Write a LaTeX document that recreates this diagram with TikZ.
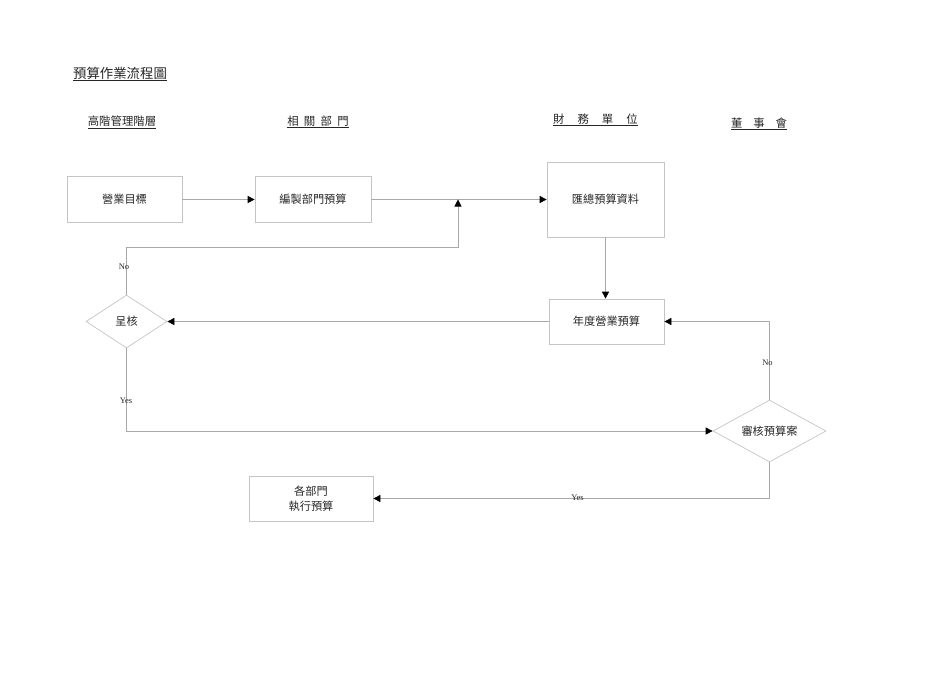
\documentclass[tikz,border=0pt]{standalone}
\usepackage{fontspec}
\setmainfont{Liberation Serif}
\newfontfamily\cjk{Noto Sans CJK TC}
\usetikzlibrary{arrows.meta,shapes.geometric}
\definecolor{boxgray}{HTML}{C4C4C4}
\definecolor{linegray}{HTML}{A8A8A8}
\definecolor{textgray}{HTML}{262626}
\newcommand\hgap[1]{\hspace*{#1pt}}
\begin{document}
\begin{tikzpicture}[x=1pt,y=-1pt,
  box/.style={draw=boxgray,line width=0.7pt,inner sep=0pt,align=center,
    font=\cjk\fontsize{11.2}{15}\selectfont,text=textgray},
  dia/.style={diamond,aspect=2,draw=boxgray,line width=0.7pt,inner sep=0pt,
    font=\cjk\fontsize{11.2}{15}\selectfont,text=textgray},
  head/.style={inner sep=0pt,font=\cjk\fontsize{11.4}{13}\selectfont,text=textgray},
  lbl/.style={inner sep=0pt,font=\fontsize{8.5}{9}\selectfont,text=textgray},
  conn/.style={draw=linegray,line width=0.7pt},
  arr/.style={conn,-{Triangle[length=7pt,width=7pt,color=black]}}]
\useasboundingbox (0,0) rectangle (950,672);

% title and headers
\node[head,font=\cjk\fontsize{13.4}{15}\selectfont] (title) at (120,74) {\underline{預算作業流程圖}};
\node[head] (h1) at (122,122) {\underline{高階管理階層}};
\node[head] (h2) at (318,122) {\underline{相\hgap{5.3}關\hgap{5.3}部\hgap{5.3}門}};
\node[head] (h3) at (595.5,120) {\underline{財\hgap{13}務\hgap{13}單\hgap{13}位}};
\node[head] (h4) at (759,124) {\underline{董\hgap{10.8}事\hgap{10.8}會}};

% nodes
\node[box,minimum width=115pt,minimum height=46pt] (b1) at (124.5,199.5) {營業目標};
\node[box,minimum width=116pt,minimum height=46pt] (b2) at (313,199.5) {編製部門預算};
\node[box,minimum width=117pt,minimum height=75pt] (b3) at (605.5,199.5) {匯總預算資料};
\node[box,minimum width=115pt,minimum height=45pt] (b4) at (606.5,321.5) {年度營業預算};
\node[dia,minimum width=81pt,minimum height=53pt] (d1) at (126.5,321.5) {呈核};
\node[dia,minimum width=113pt,minimum height=62pt] (d2) at (769.5,431) {審核預算案};
\node[box,minimum width=124pt,minimum height=45pt] (b5) at (311,498.5) {各部門\\執行預算};

\coordinate (c1) at (458,247);

% connectors
\draw[arr] (b1.east) -- (b2.west);
\draw[arr] (b2.east) -- (b3.west);
\draw[arr] (b3.south) -- (b3.south |- b4.north);
\draw[arr] (b4.west) -- (d1.east);
\draw[arr] (d1.north) -- (d1.north |- c1) -- (c1) -- (c1 |- b2.east);
\draw[arr] (d1.south) -- (d1.south |- d2.west) -- (d2.west);
\draw[arr] (d2.north) |- (b4.east);
\draw[arr] (d2.south) |- (b5.east);

% labels
\node[lbl] (l1) at (124,267) {No};
\node[lbl] (l2) at (126,401) {Yes};
\node[lbl] (l3) at (767.5,363) {No};
\node[lbl] (l4) at (577.5,498) {Yes};
\end{tikzpicture}
\end{document}
